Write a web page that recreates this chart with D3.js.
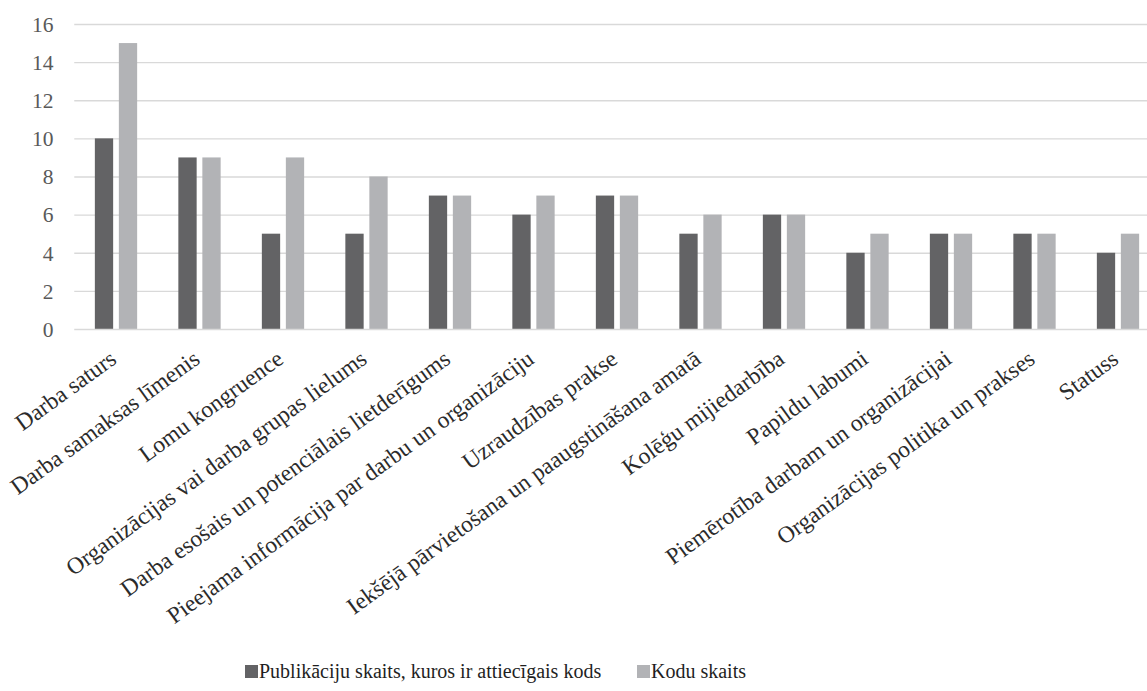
<!DOCTYPE html>
<html>
<head>
<meta charset="utf-8">
<script src="https://cdn.jsdelivr.net/npm/d3@7"></script>
<style>
  html, body { margin: 0; padding: 0; background: #ffffff; }
  svg { display: block; }
</style>
</head>
<body>
<svg id="chart" width="1147" height="691" font-family="Liberation Serif"></svg>
<script>
const categories = [
  "Darba saturs",
  "Darba samaksas līmenis",
  "Lomu kongruence",
  "Organizācijas vai darba grupas lielums",
  "Darba esošais un potenciālais lietderīgums",
  "Pieejama informācija par darbu un organizāciju",
  "Uzraudzības prakse",
  "Iekšējā pārvietošana un paaugstināšana amatā",
  "Kolēģu mijiedarbība",
  "Papildu labumi",
  "Piemērotība darbam un organizācijai",
  "Organizācijas politika un prakses",
  "Statuss"
];
const seriesNames = ["Publikāciju skaits, kuros ir attiecīgais kods", "Kodu skaits"];
const publications = [10, 9, 5, 5, 7, 6, 7, 5, 6, 4, 5, 5, 4];
const codes = [15, 9, 9, 8, 7, 7, 7, 6, 6, 5, 5, 5, 5];
const yTicks = [0, 2, 4, 6, 8, 10, 12, 14, 16];

const colors = ["#636365", "#b2b3b6"];
const serif = "Liberation Serif";
const svg = d3.select("#chart");

const plot = { left: 74.25, right: 1159.75, top: 24, bottom: 329 };

const y = d3.scaleLinear().domain([0, 16]).range([plot.bottom, plot.top]);
const x = d3.scaleBand().domain(categories).range([plot.left, plot.right]).padding(0);
const groupW = 42.3;
const x1 = d3.scaleBand().domain([0, 1]).range([-groupW / 2, groupW / 2]).paddingInner(0.2375).paddingOuter(0);

// horizontal gridlines
svg.append("g")
  .selectAll("line")
  .data(yTicks.filter(t => t > 0))
  .join("line")
  .attr("x1", plot.left).attr("x2", 1147)
  .attr("y1", d => y(d) + 0.5).attr("y2", d => y(d) + 0.5)
  .attr("stroke", "#d9d9d9").attr("stroke-width", 1.4);

// y axis tick labels
const yAxis = d3.axisLeft(y).tickValues(yTicks).tickSize(0).tickPadding(0);
const yg = svg.append("g").attr("transform", "translate(53.5,0)").call(yAxis);
yg.attr("font-family", serif).attr("font-size", null);
yg.select(".domain").remove();
yg.selectAll("text")
  .attr("font-family", serif)
  .attr("font-size", 21.5)
  .attr("fill", "#595959")
  .attr("dy", "0.34em");

// bars
const rows = categories.map((c, i) => ({ cat: c, vals: [publications[i], codes[i]] }));
const groups = svg.append("g")
  .selectAll("g")
  .data(rows)
  .join("g")
  .attr("transform", d => `translate(${x(d.cat) + x.bandwidth() / 2},0)`);
groups.selectAll("rect")
  .data(d => d.vals.map((v, k) => ({ v, k })))
  .join("rect")
  .attr("x", d => x1(d.k))
  .attr("width", x1.bandwidth())
  .attr("y", d => y(d.v))
  .attr("height", d => y(0) - y(d.v))
  .attr("fill", d => colors[d.k]);

// baseline
svg.append("line")
  .attr("x1", plot.left).attr("x2", 1147)
  .attr("y1", plot.bottom + 0.5).attr("y2", plot.bottom + 0.5)
  .attr("stroke", "#d9d9d9").attr("stroke-width", 1.6);

// rotated category labels
const xAxis = d3.axisBottom(x).tickSize(0).tickPadding(0);
const xg = svg.append("g").attr("transform", `translate(0,${plot.bottom})`).call(xAxis);
xg.attr("font-family", serif).attr("font-size", null);
xg.select(".domain").remove();
xg.selectAll("text")
  .attr("font-family", serif)
  .attr("font-size", 23.5)
  .attr("fill", "#2b2b2b")
  .attr("text-anchor", "end")
  .attr("dy", 0)
  .attr("y", 0)
  .attr("transform", "translate(2,33) rotate(-36)");

// legend
const legend = svg.append("g").attr("transform", "translate(245,678)");
const legendX = [0, 392];
seriesNames.forEach((name, k) => {
  const g = legend.append("g").attr("transform", `translate(${legendX[k]},0)`);
  g.append("rect").attr("x", 0).attr("y", -13).attr("width", 13).attr("height", 13).attr("fill", colors[k]);
  g.append("text").attr("x", 14).attr("y", 0)
    .attr("font-family", serif)
    .attr("font-size", 20)
    .attr("fill", "#1f1f1f").text(name);
});
</script>
</body>
</html>
